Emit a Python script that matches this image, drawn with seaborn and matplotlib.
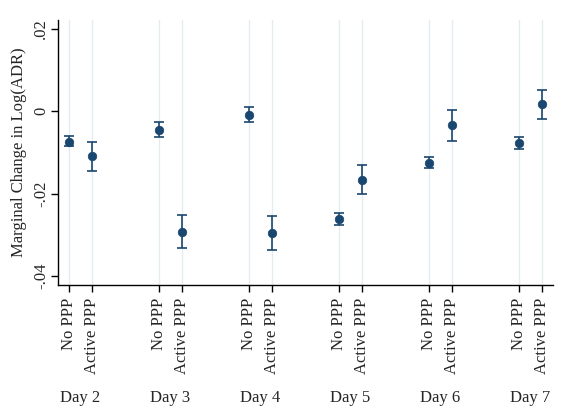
import matplotlib
matplotlib.use("Agg")
import matplotlib.pyplot as plt
import matplotlib.transforms as mtransforms
import seaborn as sns
import pandas as pd
import numpy as np

days = ["Day 2", "Day 3", "Day 4", "Day 5", "Day 6", "Day 7"]
groups = ["No PPP", "Active PPP"]
no_ppp_est = [-0.0074, -0.0045, -0.0008, -0.0261, -0.0125, -0.0077]
no_ppp_lo = [-0.0085, -0.0063, -0.0027, -0.0275, -0.0138, -0.0092]
no_ppp_hi = [-0.0060, -0.0026, 0.0011, -0.0248, -0.0111, -0.0063]
act_ppp_est = [-0.0109, -0.0292, -0.0296, -0.0166, -0.0034, 0.0017]
act_ppp_lo = [-0.0146, -0.0331, -0.0337, -0.0202, -0.0071, -0.0019]
act_ppp_hi = [-0.0074, -0.0252, -0.0255, -0.0130, 0.0003, 0.0053]
y_ticks = [-0.04, -0.02, 0.0, 0.02]
y_tick_labels = ["-.04", "-.02", "0", ".02"]

rows = []
for i, d in enumerate(days):
    rows.append(dict(day=d, group=groups[0], pos=4 * i, est=no_ppp_est[i],
                     lo=no_ppp_lo[i], hi=no_ppp_hi[i]))
    rows.append(dict(day=d, group=groups[1], pos=4 * i + 1, est=act_ppp_est[i],
                     lo=act_ppp_lo[i], hi=act_ppp_hi[i]))
df = pd.DataFrame(rows)

sns.set_style("white")
plt.rcParams["font.family"] = ["Liberation Serif", "DejaVu Serif"]
plt.rcParams["font.size"] = 12

color = "#1a476f"
fig = plt.figure(figsize=(5.68, 4.09), dpi=100)
ax = fig.add_axes([58 / 568, 1 - 285 / 409, 495 / 568, 265 / 409])

for p in df["pos"]:
    ax.axvline(p, color="#e3edf0", lw=1.0, zorder=0)

ax.errorbar(df["pos"], df["est"],
            yerr=[df["est"] - df["lo"], df["hi"] - df["est"]],
            fmt="none", ecolor=color, elinewidth=1.2, capsize=3.3,
            capthick=1.2, zorder=2)
sns.scatterplot(data=df, x="pos", y="est", ax=ax, color=color, s=38,
                edgecolor=color, linewidth=0.5, zorder=3, legend=False)

ax.set_xlim(-0.5, 21.5)
ax.set_ylim(-0.0422, 0.0222)
ax.set_xticks(df["pos"])
ax.set_xticklabels(df["group"], rotation=90, va="top", ha="center")
ax.set_yticks(y_ticks)
ax.set_yticklabels(y_tick_labels, rotation=90, va="center")
ax.tick_params(axis="both", which="both", length=5, width=1, color="black",
               labelsize=12, direction="out")
ax.tick_params(axis="x", bottom=True, pad=4)
ax.tick_params(axis="y", left=True, pad=1.5)
ax.set_xlabel("")
ax.set_ylabel("Marginal Change in Log(ADR)", fontsize=12, labelpad=4)

for s in ["top", "right"]:
    ax.spines[s].set_visible(False)
for s in ["left", "bottom"]:
    ax.spines[s].set_color("black")
    ax.spines[s].set_linewidth(1.0)

trans = mtransforms.blended_transform_factory(ax.transData, ax.transAxes)
for i, d in enumerate(days):
    ax.text(4 * i + 0.5, -0.428, d, transform=trans, ha="center", va="center",
            fontsize=12)

fig.savefig("out.png", dpi=100)
